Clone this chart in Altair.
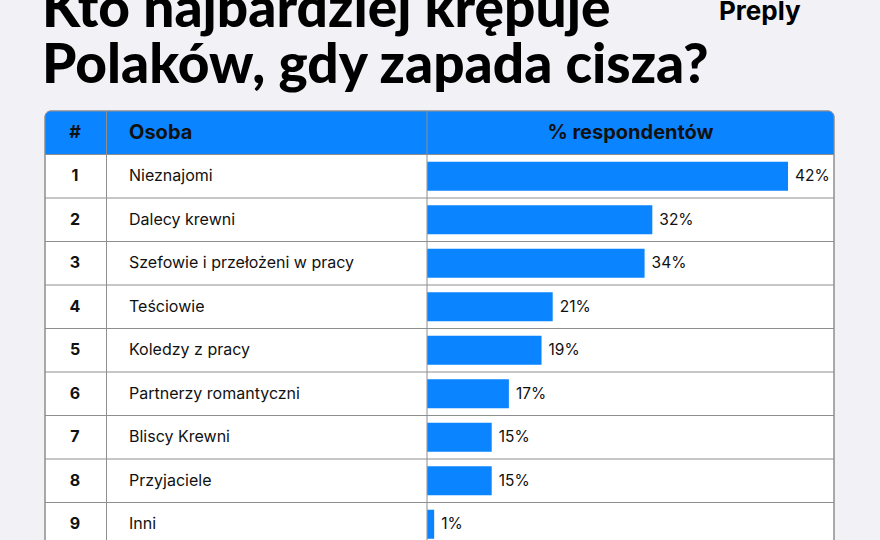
import altair as alt
import pandas as pd

# ---- data ----
ranks = ["1", "2", "3", "4", "5", "6", "7", "8", "9"]
people = ["Nieznajomi", "Dalecy krewni", "Szefowie i przełożeni w pracy", "Teściowie",
          "Koledzy z pracy", "Partnerzy romantyczni", "Bliscy Krewni", "Przyjaciele", "Inni"]
pct_labels = ["42%", "32%", "34%", "21%", "19%", "17%", "15%", "15%", "1%"]
# bar lengths as drawn in the picture (same units as the 42% bar)
bar_lengths = [42, 26.2, 25.3, 14.6, 13.3, 9.5, 7.5, 7.5, 0.8]
header_labels = ["#", "Osoba", "% respondentów"]
title_lines = ["Kto najbardziej krępuje", "Polaków, gdy zapada cisza?"]
brand = "Preply"

BLUE = "#0a84ff"
BG = "#f2f1f6"
GRID = "#8e8e8e"
INK = "#111111"
FONT = "Inter"
TFONT = "Lato"

rows = pd.DataFrame({"rank": ranks, "name": people, "label": pct_labels, "bar": bar_lengths})
head = pd.DataFrame({"rank": ["h"], "c0": [header_labels[0]], "c1": [header_labels[1]], "c2": [header_labels[2]]})

W = 789
yscale = alt.Scale(domain=["h"] + ranks, range=[0, 435], paddingInner=0, paddingOuter=0)
Y = alt.Y("rank:N", scale=yscale, axis=None)
X = alt.X("bar:Q", scale=alt.Scale(domain=[0, 42], range=[382.3, 743]), axis=None)

base_rows = alt.Chart(rows)
base_head = alt.Chart(head)

table_bg = base_head.mark_rect(fill="white", stroke=GRID, strokeWidth=1, cornerRadius=6).encode(
    x=alt.value(0), x2=alt.value(W), y=alt.value(0), y2=alt.value(460))
header_bg = base_head.mark_rect(fill=BLUE, cornerRadiusTopLeft=6, cornerRadiusTopRight=6).encode(
    x=alt.value(0), x2=alt.value(W), y=Y)
hlines = base_rows.mark_rule(color=GRID, strokeWidth=1).encode(
    x=alt.value(0), x2=alt.value(W), y=alt.Y("rank:N", scale=yscale, axis=None, bandPosition=0))
vline1 = base_head.mark_rule(color=GRID, strokeWidth=1).encode(
    x=alt.value(61.5), y=alt.value(0), y2=alt.value(460))
vline2 = base_head.mark_rule(color=GRID, strokeWidth=1).encode(
    x=alt.value(382), y=alt.value(0), y2=alt.value(460))
outline = base_head.mark_rect(fill=None, stroke=GRID, strokeWidth=1, cornerRadius=6).encode(
    x=alt.value(0), x2=alt.value(W), y=alt.value(0), y2=alt.value(460))

bars = base_rows.mark_bar(color=BLUE, height=29).encode(x=X, y=Y)
labels = base_rows.mark_text(align="left", baseline="middle", dx=7, font=FONT, fontSize=15.5,
                             color=INK).encode(x=X, y=Y, text="label:N")
rank_text = base_rows.mark_text(align="center", baseline="middle", font=FONT, fontSize=16,
                                fontWeight="bold", color=INK).encode(x=alt.value(30), y=Y, text="rank:N")
name_text = base_rows.mark_text(align="left", baseline="middle", font=FONT, fontSize=16,
                                color=INK).encode(x=alt.value(84), y=Y, text="name:N")

h0 = base_head.mark_text(align="center", baseline="middle", font=FONT, fontSize=18, fontWeight="bold",
                         color=INK).encode(x=alt.value(30), y=Y, text="c0:N")
h1 = base_head.mark_text(align="left", baseline="middle", font=FONT, fontSize=20, fontWeight="bold",
                         color=INK).encode(x=alt.value(84), y=Y, text="c1:N")
h2 = base_head.mark_text(align="center", baseline="middle", font=FONT, fontSize=20, fontWeight="bold",
                         color=INK).encode(x=alt.value(585.5), y=Y, text="c2:N")

title1 = base_head.mark_text(align="left", baseline="alphabetic", font=TFONT, fontSize=55,
                             fontWeight=900, color="#000000", text=title_lines[0]).encode(
    x=alt.value(-3), y=alt.value(-84))
title2 = base_head.mark_text(align="left", baseline="alphabetic", font=TFONT, fontSize=55,
                             fontWeight=900, color="#000000", text=title_lines[1]).encode(
    x=alt.value(-3), y=alt.value(-28))

logo = base_head.mark_text(align="left", baseline="alphabetic", font=FONT, fontSize=26, fontWeight="bold",
                           color="#000000", text=brand).encode(x=alt.value(674), y=alt.value(-91))

chart = alt.layer(
    table_bg, header_bg, hlines, vline1, vline2, outline, bars, labels, rank_text, name_text,
    h0, h1, h2, title1, title2, logo
).properties(
    width=W, height=429,
    autosize=alt.AutoSizeParams(type="none"),
    padding={"left": 45, "top": 111, "right": 46, "bottom": 0},
    background=BG,
).configure_view(stroke=None)

chart.save("out.html", embed_options={"renderer": "svg", "actions": False})
